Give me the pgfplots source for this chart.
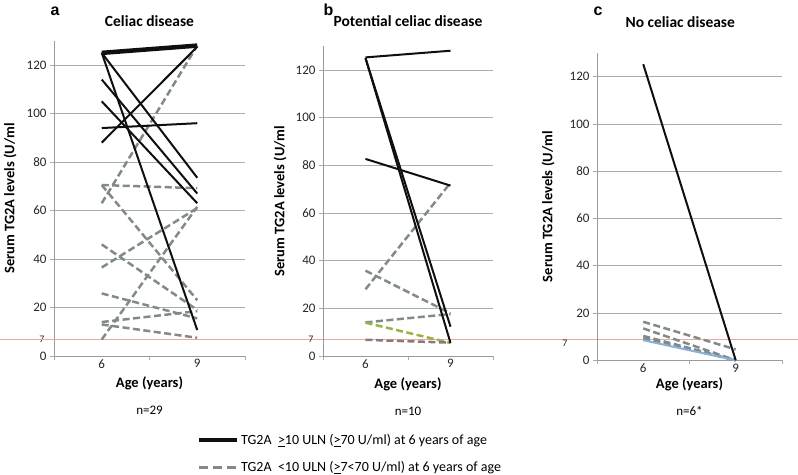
\documentclass[border=0pt]{standalone}
\usepackage{pgfplots}
\pgfplotsset{compat=1.18}
\usepackage{fontspec}
\setmainfont{Carlito}
\newfontfamily\arialfont{Liberation Sans}

\definecolor{dgray}{RGB}{128,138,138}
\definecolor{gridc}{RGB}{165,175,175}
\definecolor{axc}{RGB}{150,155,155}
\definecolor{redl}{RGB}{240,165,165}
\definecolor{greenl}{RGB}{150,180,70}
\definecolor{brownl}{RGB}{140,120,120}
\definecolor{bluel}{RGB}{140,175,215}
\definecolor{blk}{RGB}{15,15,15}

\newcommand{\tf}{\fontsize{13}{15}\selectfont}
\newcommand{\lf}{\bfseries\fontsize{14.5}{17}\selectfont}
\newcommand{\ttf}{\bfseries\fontsize{15.5}{18}\selectfont}
\newcommand{\gf}{\fontsize{14}{16}\selectfont}

\pgfplotsset{
 panel/.style={
  scale only axis,
  anchor=south west,
  xmin=-0.5, xmax=1.5, ymin=0, ymax=130,
  axis x line*=bottom, axis y line*=left,
  axis line style={draw=axc, line width=0.8pt},
  ytick={0,20,40,60,80,100,120},
  ymajorgrids, major grid style={draw=gridc, line width=0.8pt},
  tick style={draw=gridc, line width=0.8pt},
  major tick length=4pt,
  tick align=outside,
  xtick={-0.5,0.5,1.5}, xticklabels={},
  extra x ticks={0,1}, extra x tick labels={{\tf 6},{\tf 9}},
  extra x tick style={major tick length=0pt, grid=none},
  extra y ticks={7}, extra y tick labels={{\fontsize{10}{12}\selectfont 7}},
  extra y tick style={major tick length=0pt, grid=none, yticklabel style={xshift=-6pt}},
  /pgf/number format/assume math mode=true,
  yticklabel={\tf\pgfmathprintnumber{\tick}},
  tick label style={text=black!85},
  ylabel={\lf Serum TG2A levels (U/ml},
  xlabel={\lf Age (years)},
  clip=false,
 },
 bl/.style={draw=blk, line width=2pt, no markers, forget plot},
 dl/.style={draw=dgray, line width=2.5pt, dash pattern=on 7pt off 3.5pt, no markers, forget plot},
}

\begin{document}
\begin{tikzpicture}
\useasboundingbox (0,0) rectangle (798pt,474pt);

% ---------- panel a ----------
\begin{axis}[panel, at={(54pt,118pt)}, width=191pt, height=315.25pt,
  title={\ttf Celiac disease}, title style={at={(0.5,1.0246)}, anchor=base},
  xlabel style={at={(axis description cs:0.5,0)}, anchor=base, yshift=-32pt},
  ylabel style={at={(axis description cs:-0.2304,0.5)}, anchor=center}]
\addplot[draw=redl, line width=0.8pt, forget plot] coordinates {(-1.07,7) (7.29,7)};
\addplot[dl] coordinates {(0,70.5) (1,69.2)};
\addplot[dl] coordinates {(0,70.5) (1,23)};
\addplot[dl] coordinates {(0,63) (1,128)};
\addplot[dl] coordinates {(0,46) (1,19)};
\addplot[dl] coordinates {(0,36.5) (1,61)};
\addplot[dl] coordinates {(0,25.8) (1,15.5)};
\addplot[dl] coordinates {(0,14) (1,18.5)};
\addplot[dl] coordinates {(0,13) (1,7.5)};
\addplot[dl] coordinates {(0,6.8) (1,61.5)};
\addplot[bl, line width=4.5pt] coordinates {(0,125) (1,128)};
\addplot[bl] coordinates {(0,125) (1,73.5)};
\addplot[bl] coordinates {(0,125) (1,10.7)};
\addplot[bl] coordinates {(0,114) (1,67)};
\addplot[bl] coordinates {(0,105) (1,63)};
\addplot[bl] coordinates {(0,94) (1,96)};
\addplot[bl] coordinates {(0,88) (1,127.5)};
\node[anchor=base, yshift=-59pt] at (rel axis cs:0.5,0) {\tf n=29};
\end{axis}

% ---------- panel b ----------
\begin{axis}[panel, at={(323pt,118pt)}, width=170pt, height=309.8pt,
  title={\ttf Potential celiac disease}, title style={at={(0.5,1.0426)}, anchor=base},
  xlabel style={at={(axis description cs:0.5,0)}, anchor=base, yshift=-32pt},
  ylabel style={at={(axis description cs:-0.253,0.5)}, anchor=center},
  legend style={at={(rel axis cs:-0.741,-0.245)}, anchor=north west, draw=none, fill=none,
    inner sep=0pt, row sep=11.5pt,
    /tikz/every even column/.append style={column sep=16pt}},
  legend cell align=left,
  legend image code/.code={\draw[#1] (0pt,0pt) -- (38pt,0pt);}]
\addlegendimage{draw=blk, line width=4pt}
\addlegendentry{\gf TG2A\ \ \underline{>}10 ULN (\underline{>}70 U/ml) at 6 years of age}
\addlegendimage{draw=dgray, line width=3pt, dash pattern=on 9pt off 5pt}
\addlegendentry{\gf TG2A\ \ <10 ULN (\underline{>}7<70 U/ml) at 6 years of age}
\addplot[dl] coordinates {(0,28) (1,72.7)};
\addplot[dl] coordinates {(0,35.8) (1,17.9)};
\addplot[dl] coordinates {(0,14.1) (1,17.6)};
\addplot[dl, draw=greenl] coordinates {(0,14) (1,5.5)};
\addplot[dl, draw=brownl] coordinates {(0,6.8) (1,5.6)};
\addplot[bl] coordinates {(0,125.3) (1,128.1)};
\addplot[bl] coordinates {(0,125) (1,12.3)};
\addplot[bl] coordinates {(0,125) (1,5.5)};
\addplot[bl] coordinates {(0,82.7) (1,71.5)};
\node[anchor=base, yshift=-59pt] at (rel axis cs:0.5,0) {\tf n=10};
\end{axis}

% ---------- panel c ----------
\begin{axis}[panel, at={(597pt,113.7pt)}, width=185pt, height=307.2pt,
  title={\ttf No celiac disease}, title style={at={(0.45,1.0654)}, anchor=base},
  xlabel style={at={(axis description cs:0.5,0)}, anchor=base, yshift=-28pt},
  ylabel style={at={(axis description cs:-0.265,0.5)}, anchor=center},
  extra y tick style={yticklabel style={xshift=-20pt}}]
\addplot[dl] coordinates {(0,16.3) (1,4.6)};
\addplot[dl] coordinates {(0,13.5) (1,0)};
\addplot[dl] coordinates {(0,10.3) (1,0)};
\addplot[dl] coordinates {(0,9.3) (1,0)};
\addplot[draw=bluel, line width=2pt, no markers, forget plot] coordinates {(0,8.5) (1,0)};
\addplot[bl] coordinates {(0,125.3) (1,0)};
\node[anchor=base, yshift=-55pt] at (rel axis cs:0.5,0) {\tf n=6*};
\end{axis}

\node[anchor=base west] at (47pt,458pt) {\arialfont\bfseries\fontsize{16}{18}\selectfont a};
\node[anchor=base west] at (320pt,458pt) {\arialfont\bfseries\fontsize{16}{18}\selectfont b};
\node[anchor=base west] at (590pt,458pt) {\arialfont\bfseries\fontsize{16}{18}\selectfont c};
\end{tikzpicture}
\end{document}
